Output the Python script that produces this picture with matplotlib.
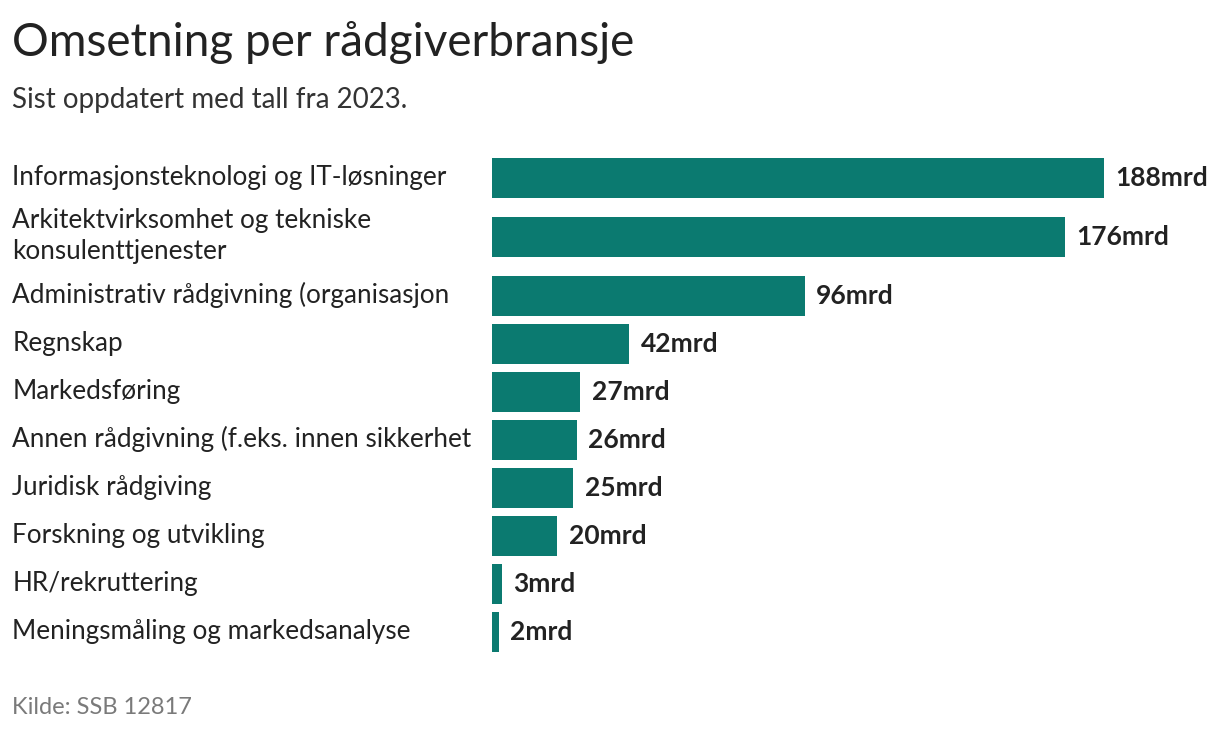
import matplotlib.pyplot as plt
import numpy as np

plt.rcParams['font.family'] = ['Lato', 'DejaVu Sans']

# data
categories = [
    "Informasjonsteknologi og IT-løsninger",
    "Arkitektvirksomhet og tekniske\nkonsulenttjenester",
    "Administrativ rådgivning (organisasjon",
    "Regnskap",
    "Markedsføring",
    "Annen rådgivning (f.eks. innen sikkerhet",
    "Juridisk rådgiving",
    "Forskning og utvikling",
    "HR/rekruttering",
    "Meningsmåling og markedsanalyse",
]
values = [188, 176, 96, 42, 27, 26, 25, 20, 3, 2]

W, H = 1220, 736
fig = plt.figure(figsize=(W / 100, H / 100), dpi=100)

# row heights: labels with two lines get a taller row
row_h = np.array([48 + 22 * c.count("\n") for c in categories], dtype=float)
centers = np.cumsum(row_h) - row_h / 2
top = 154
total = row_h.sum()

ax = fig.add_axes([492 / W, 1 - (top + total) / H, 612 / W, total / H])
ax.barh(centers, values, height=40, color="#0b7a70")
ax.set_xlim(0, 188)
ax.set_ylim(total, 0)
ax.axis("off")

for y, v, c in zip(centers, values, categories):
    ax.text(v + 3.6, y, f"{v}mrd", va="center", ha="left", fontsize=19,
            fontweight="bold", color="#222222", clip_on=False)
    ax.text(-147.3, y - 1, c, va="center", ha="left", fontsize=18.8,
            color="#222222", linespacing=1.3, clip_on=False)

fig.text(12 / W, 1 - 42 / H, "Omsetning per rådgiverbransje", fontsize=33,
         color="#222222", va="center", ha="left")
fig.text(12 / W, 1 - 100 / H, "Sist oppdatert med tall fra 2023.", fontsize=20,
         color="#333333", va="center", ha="left")
fig.text(12 / W, 1 - 708 / H, "Kilde: SSB 12817", fontsize=17,
         color="#7a7a7a", va="center", ha="left")

fig.savefig("out.png", dpi=100)
